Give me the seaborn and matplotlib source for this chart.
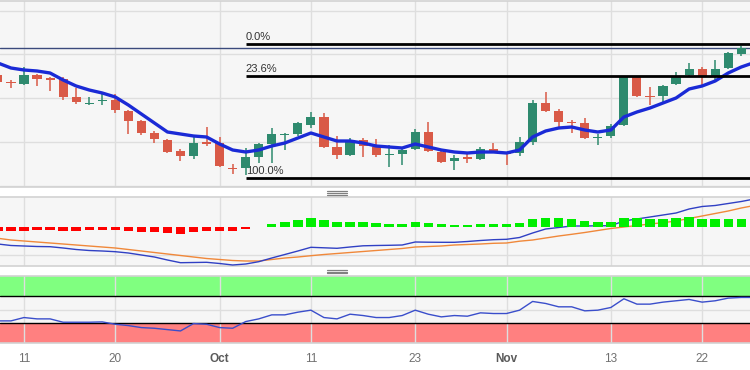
import numpy as np
import pandas as pd
import matplotlib
matplotlib.use("Agg")
import matplotlib.pyplot as plt
from matplotlib.lines import Line2D
import seaborn as sns

# ---------------- data ----------------
# trading sessions: candles Sep 7 .. Nov 27; indicator lines run one session further (Nov 28, off the right edge)
line_dates = pd.bdate_range("2023-09-07", "2023-11-28")
candle_dates = line_dates[:58]

opens = [125, 118, 116, 125, 122, 121, 103, 96, 99, 100, 89, 79, 67, 60, 49, 44, 58, 57, 32, 32,
         43, 56, 65, 66, 75, 83, 53, 45, 60, 53, 45, 46, 51, 68, 48, 39, 43, 41, 51, 47,
         47, 58, 97, 89, 78, 77, 62, 64, 75, 123, 104, 104, 116, 125, 131, 123, 132, 146]
highs = [128, 120, 133, 126, 123, 123, 112, 103, 106, 106, 90, 80, 69, 61, 51, 63, 73, 63, 36, 52,
         57, 72, 67, 78, 88, 87, 64, 62, 62, 61, 55, 52, 71, 78, 50, 45, 48, 53, 57, 48,
         63, 100, 108, 91, 80, 82, 66, 76, 124, 123.5, 113, 115, 128, 137, 133, 140, 148, 154]
lows = [116, 112, 115, 114, 109, 100, 96, 95, 95, 87, 66, 65, 57, 47, 39, 41, 54, 33, 26, 25,
        37, 37, 50, 64, 72, 52, 41, 44, 43, 43, 33, 35, 50, 48, 37, 30, 37, 40, 47, 35,
        44, 55, 88, 72, 67, 61, 55, 62, 74, 103, 95, 97, 115, 123, 114, 120, 131, 144]
closes = [118, 117, 125, 121, 120, 103, 98, 97, 100, 90, 79, 67, 61, 48, 44, 57, 56, 34, 31, 43,
          56, 66, 66, 77, 83, 53, 45, 60, 54, 45, 46, 50, 68, 49, 38, 42, 41, 51, 48, 46,
          58, 97, 89, 78, 77, 62, 63, 74, 123, 104, 103, 114, 124, 131, 123, 131, 147, 152]

moving_avg = [137, 132, 130, 129, 127, 120, 114, 110, 107, 103, 95, 86, 77, 68, 66, 64, 63, 56, 50, 48,
              50, 54, 57, 62, 67, 63, 59, 59, 57, 54, 53, 52, 56, 53, 50, 48, 47, 48, 48, 47,
              50, 63, 69, 72, 73, 70, 68, 70, 83, 88, 92, 97, 102, 111, 114, 119, 127, 133, 137.5]

fib_high, fib_low = 156, 22
fib_ratios = [0.0, 0.236, 1.0]
fib_labels = ["0.0%", "23.6%", "100.0%"]
fib_start = "2023-10-04"

macd_line = [-14, -15.5, -16, -16.5, -16.7, -18, -19.5, -20.5, -21, -21.7, -23, -25, -27, -30, -32.7,
             -32.5, -32.3, -33.5, -35, -34, -31.7, -28, -24.5, -21, -17.3, -17.8, -18.3, -17, -15.8,
             -15.5, -15.3, -15, -12, -12.2, -12.3, -12.3, -11.5, -10.5, -9.7, -9.3, -7.5, -3, 1, 2.5,
             4, 4, 4.2, 4.3, 9, 11, 13, 15, 17, 21, 23.5, 24.5, 26.5, 28.5, 31]
signal_line = [-8.3, -10, -11, -12, -13, -14, -15, -16, -17, -18, -19.5, -21, -22.5, -24, -25.5, -27,
               -28.5, -29.5, -30.5, -31, -31, -29.5, -28, -27, -25.7, -24.5, -23.5, -22.5, -21.5,
               -20.5, -19.5, -18.5, -17, -16.5, -16, -15, -14.5, -14, -13.3, -13, -11.2, -10, -8, -6,
               -4.3, -2.5, -0.5, 1.5, 3, 4.5, 6, 7.3, 9, 11.5, 14, 16.5, 19, 22, 24.5]
histogram = [-4.3, -4, -4, -3.3, -3.3, -4, -4, -3.3, -3.3, -3.3, -4, -5, -5.7, -6.7, -7.3, -5, -4, -4,
             -4, -2.7, -0.5, 2.3, 4.3, 6.7, 8.3, 6.7, 5, 5, 5, 4, 2.7, 2.7, 5, 4, 2.3, 1.7, 1.7, 2.3,
             2.3, 2.3, 3.3, 7.3, 9, 8.3, 7.7, 5.7, 4.3, 4.3, 8.3, 8.3, 7.7, 7.7, 8.3, 9.3, 7.7, 7.7,
             7.7, 7.7]

rsi = [33, 33, 38, 36, 36, 31, 31, 31, 31.5, 28, 26, 23, 22, 20, 18, 29, 28, 23, 22, 32,
       36, 42, 42, 46, 49, 38, 36, 43, 41, 38, 38, 41, 49, 43, 39, 41, 40, 45, 44, 44,
       49, 62, 59, 54, 54, 48, 49, 53, 66, 58, 58, 61, 63, 65, 61, 63, 67, 68, 68]
rsi_upper, rsi_lower = 70, 30

tick_dates = ["2023-09-11", "2023-09-20", "2023-10-02", "2023-10-11", "2023-10-23",
              "2023-11-01", "2023-11-13", "2023-11-22"]
tick_labels = ["11", "20", "Oct", "11", "23", "Nov", "13", "22"]

# ---------------- styling ----------------
sns.set_style("white")
plt.rcParams["font.family"] = ["Liberation Sans", "DejaVu Sans"]

GREEN, RED = "#2e8a6e", "#d95a47"
BG, GRID, FRAME = "#f6f6f6", "#dedede", "#d2d2d2"

W, H = 750, 370
fig = plt.figure(figsize=(W / 100, H / 100), dpi=100)
fig.patch.set_facecolor("white")


def panel(top, bottom):
    return fig.add_axes([0, 1 - bottom / H, 1, (bottom - top) / H])


ax1 = panel(1, 187)
ax2 = panel(197, 266)
ax3 = panel(276, 343)

pos = {d: i for i, d in enumerate(line_dates)}
tick_pos = [pos[pd.Timestamp(d)] for d in tick_dates]
xlim = (0.16, 57.67)

for ax in (ax1, ax2, ax3):
    ax.set_facecolor(BG)
    ax.set_xlim(*xlim)
    ax.set_xticks(tick_pos)
    ax.grid(True, axis="both", color=GRID, lw=1)
    ax.tick_params(length=0, labelleft=False, labelbottom=False)
    for s in ("left", "right"):
        ax.spines[s].set_visible(False)
    for s in ("top", "bottom"):
        ax.spines[s].set_color(FRAME)
        ax.spines[s].set_linewidth(1.2)

# ---- main price panel ----
o, h, l, c = map(np.asarray, (opens, highs, lows, closes))
ci = np.arange(len(candle_dates))
cols = np.where(c >= o, GREEN, RED)
ax1.vlines(ci, l, h, colors=cols, lw=1.1, zorder=3)
body_lo = np.minimum(o, c)
body_h = np.maximum(np.abs(c - o), 0.9)
ax1.bar(ci, body_h, bottom=body_lo, width=0.7, color=cols, zorder=4, linewidth=0)

li = np.arange(len(line_dates))
sns.lineplot(x=li, y=moving_avg, ax=ax1, color="#1a2ad6", lw=2.4, zorder=5)

ax1.axhline(c[-1], color="#3b4a7c", lw=1, zorder=2)
fs = pos[pd.Timestamp(fib_start)]
for r, lab in zip(fib_ratios, fib_labels):
    lvl = fib_high - r * (fib_high - fib_low)
    ax1.hlines(lvl, fs, xlim[1], color="black", lw=2, zorder=6)
    ax1.annotate(lab, (fs, lvl), xytext=(0, 1.5), textcoords="offset points",
                 fontsize=8, color="#333333", va="bottom", ha="left")
ax1.set_ylim(13, 199)
ax1.set_yticks([14, 58, 102, 146, 189])

# ---- MACD panel ----
ax2.set_ylim(-36, 33)
ax2.set_yticks([-25])
sns.lineplot(x=li, y=signal_line, ax=ax2, color="#f0883a", lw=1.0, zorder=3)
sns.lineplot(x=li, y=macd_line, ax=ax2, color="#3040c4", lw=1.0, zorder=4)
ax2b = ax2.twinx()
ax2b.set_ylim(-39.3, 29.7)
ax2b.set_xlim(*xlim)
hv = np.asarray(histogram)
ax2b.bar(ci, hv, width=0.72, color=np.where(hv >= 0, "#00ee00", "#ff0000"), linewidth=0, zorder=5)
ax2b.axis("off")

# ---- RSI panel ----
ax3.set_ylim(0, 100)
ax3.set_yticks([50])
ax3.axhspan(rsi_upper, 100, color="#80ff80", zorder=0.5, lw=0)
ax3.axhspan(0, rsi_lower, color="#ff8080", zorder=0.5, lw=0)
ax3.axhline(rsi_upper, color="black", lw=1, zorder=2)
ax3.axhline(rsi_lower, color="black", lw=1, zorder=2)
sns.lineplot(x=li, y=rsi, ax=ax3, color="#3a4ecb", lw=1.0, zorder=4)
ax3.set_xticklabels(tick_labels)
ax3.tick_params(axis="x", labelbottom=True, pad=7, labelsize=8.5, labelcolor="#707070")
for t in ax3.get_xticklabels():
    if t.get_text() in ("Oct", "Nov"):
        t.set_fontweight("bold")
        t.set_color("#5a5a5a")

for ax in (ax1, ax2, ax3):
    ax.set_xlabel("")
    ax.set_ylabel("")
    if ax.get_legend():
        ax.get_legend().remove()

# panel drag handles
for yc in (193, 271.5):
    for dy in (-1.7, 0, 1.7):
        fig.add_artist(Line2D([327 / W, 347 / W], [1 - (yc + dy) / H] * 2, color="#808080", lw=0.9))

fig.savefig("out.png", dpi=100, facecolor="white")
